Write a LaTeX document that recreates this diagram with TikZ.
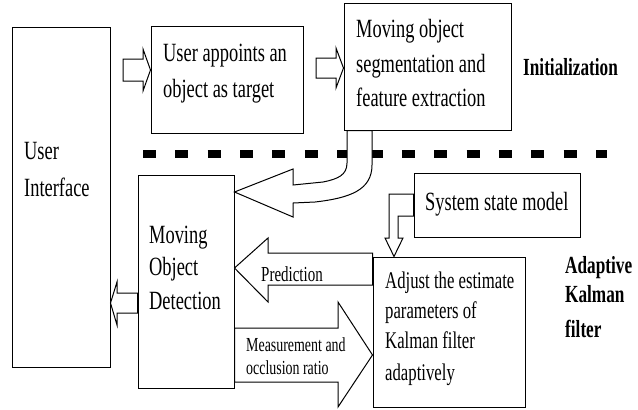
\documentclass[tikz,border=0pt]{standalone}
\usepackage{fontspec}
\setmainfont{Liberation Serif}[FakeStretch=0.7]
\newcommand\fsz[1]{\fontsize{#1}{#1}\selectfont}
\begin{document}
\begin{tikzpicture}[x=1pt,y=-1pt,
  box/.style={draw,line width=1pt,inner sep=0pt,fill=white},
  txt/.style={anchor=base west,inner sep=0pt,font=\fsz{26.3}},
  adjtxt/.style={anchor=base west,inner sep=0pt,font=\fsz{23.9}},
  bold/.style={anchor=base west,inner sep=0pt,font=\fsz{24.6}\bfseries},
  small/.style={anchor=base west,inner sep=0pt,font=\fsz{19.9}},
  blk/.style={draw,fill=white,line width=1pt,line join=miter}]
\useasboundingbox[fill=white] (0,0) rectangle (638,410);
% boxes
\node[box,minimum width=98pt,minimum height=340pt] (ui) at (61,197) {};
\node[box,minimum width=152pt,minimum height=107pt] (b2) at (227,79.5) {};
\node[box,minimum width=167pt,minimum height=127pt] (b3) at (427.5,66.5) {};
\node[box,minimum width=96pt,minimum height=213pt] (mod) at (186,281.5) {};
\node[box,minimum width=166pt,minimum height=64pt] (ssm) at (497,205) {};
\node[box,minimum width=152pt,minimum height=150pt] (adj) at (449,332) {};
% dashed separator
\draw[line width=8pt,dash pattern=on 13pt off 19.36pt] (143,154) -- (607,154);
% block arrows
\draw[blk] (123,59) -- (143,59) -- (143,49) -- (b2.west |- 0,70) -- (143,91) -- (143,81) -- (123,81) -- cycle;
\draw[blk] (316,58) -- (336,58) -- (336,48) -- (b3.west |- 0,68) -- (336,88) -- (336,78) -- (316,78) -- cycle;
\draw[blk] (b3.south -| 347,0) -- (347,163) .. controls (347,175) and (338,179) .. (323,182) -- (293,185) -- (293,169)
  -- (mod.east |- 0,192) -- (293,217) -- (293,203) -- (315,202) .. controls (350,198) and (372,190) .. (372,165) -- (b3.south -| 372,0) -- cycle;
\draw[blk] (mod.west |- 0,293) -- (117,293) -- (117,282) -- (ui.east |- 0,303) -- (117,325) -- (117,313) -- (mod.west |- 0,313) -- cycle;
\draw[blk] (ssm.west |- 0,194) -- (389,194) -- (389,238) -- (385,238) -- (adj.north -| 394,0) -- (403,238) -- (398,238) -- (398,216) -- (ssm.west |- 0,216) -- cycle;
\draw[blk] (adj.west |- 0,253) -- (268,253) -- (268,238) -- (mod.east |- 0,268) -- (268,302) -- (268,285) -- (adj.west |- 0,285) -- cycle;
\draw[blk] (mod.east |- 0,328) -- (338,328) -- (338,302) -- (adj.west |- 0,355) -- (338,407) -- (338,382) -- (mod.east |- 0,382) -- cycle;
% texts
\node[txt] (ui1) at (24,159) {User};
\node[txt] (ui2) at (24,196) {Interface};
\node[txt] (b2a) at (163,61) {User appoints an};
\node[txt] (b2b) at (163,97) {object as target};
\node[txt] (b3a) at (356,37) {Moving object};
\node[txt] (b3b) at (356,72) {segmentation and};
\node[txt] (b3c) at (356,106) {feature extraction};
\node[bold] (init) at (523,75) {Initialization};
\node[txt] (m1) at (149,243) {Moving};
\node[txt] (m2) at (149,275) {Object};
\node[txt] (m3) at (149,309) {Detection};
\node[txt] (s1) at (425,210) {System state model};
\node[adjtxt] (a1) at (385,288) {Adjust the estimate};
\node[adjtxt] (a2) at (385,318) {parameters of};
\node[adjtxt] (a3) at (385,348) {Kalman filter};
\node[adjtxt] (a4) at (385,380) {adaptively};
\node[bold] (k1) at (565,273) {Adaptive};
\node[bold] (k2) at (565,302) {Kalman};
\node[bold] (k3) at (565,337) {filter};
\node[anchor=base west,inner sep=0pt,font=\fsz{21.4}] (pred) at (261,281) {Prediction};
\node[small] (me1) at (246,351) {Measurement and};
\node[small] (me2) at (246,374) {occlusion ratio};
\end{tikzpicture}
\end{document}
